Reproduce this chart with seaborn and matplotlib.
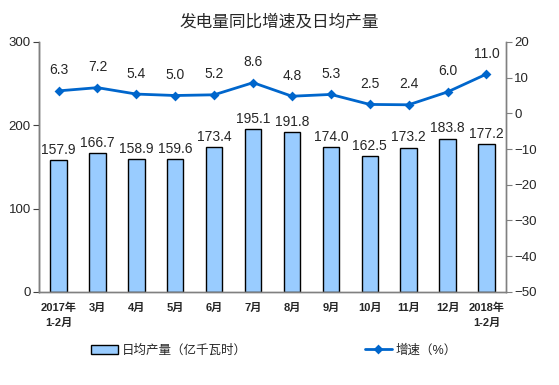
import pandas as pd
import matplotlib.pyplot as plt
import seaborn as sns

# Data
months = ['2017年\n1-2月', '3月', '4月', '5月', '6月', '7月', '8月', '9月',
          '10月', '11月', '12月', '2018年\n1-2月']
daily_output = [157.9, 166.7, 158.9, 159.6, 173.4, 195.1, 191.8, 174.0,
                162.5, 173.2, 183.8, 177.2]
growth = [6.3, 7.2, 5.4, 5.0, 5.2, 8.6, 4.8, 5.3, 2.5, 2.4, 6.0, 11.0]

df = pd.DataFrame({'month': months, 'output': daily_output, 'growth': growth})

sns.set_style('white')
plt.rcParams['font.family'] = ['Liberation Sans', 'Noto Sans CJK SC', 'DejaVu Sans']

fig = plt.figure(figsize=(5.59, 3.85), dpi=100)
ax = fig.add_axes([0.070, 0.242, 0.835, 0.649])
ax2 = ax.twinx()

# Bars: daily output
sns.barplot(data=df, x='month', y='output', ax=ax, color='#99CCFF',
            edgecolor='black', linewidth=1.0, width=0.42, saturation=1,
            label='日均产量（亿千瓦时）')
for i, v in enumerate(daily_output):
    ax.text(i, v + 4, f'{v:.1f}', ha='center', va='bottom', fontsize=10)

# Line: growth rate
sns.pointplot(data=df, x='month', y='growth', ax=ax2, color='#0066CC',
              markers='D', markersize=3.5, linewidth=2, label='增速（%）')
for i, v in enumerate(growth):
    ax2.text(i, v + 3.8, f'{v:.1f}', ha='center', va='bottom', fontsize=10)

ax.set_ylim(0, 300)
ax.set_yticks([0, 100, 200, 300])
ax2.set_ylim(-50, 20)
ax2.set_yticks(range(-50, 21, 10))
ax.set_xlim(-0.5, len(months) - 0.5)

ax.set_xlabel('')
ax.set_ylabel('')
ax2.set_xlabel('')
ax2.set_ylabel('')

# Spines and ticks
ax.spines['top'].set_visible(False)
ax2.spines['top'].set_visible(False)
for a in (ax, ax2):
    for sp in ['left', 'right', 'bottom']:
        a.spines[sp].set_color('#808080')
        a.spines[sp].set_linewidth(1.0)
ax.spines['left'].set_color('#404040')

ax.tick_params(axis='y', direction='out', length=4, color='#404040',
               labelsize=9.5, left=True, pad=2)
ax2.tick_params(axis='y', direction='out', length=4, color='#808080',
                labelsize=9.5, right=True, pad=2)
ax.set_xticks(range(len(months)))
ax.set_xticklabels(months, fontsize=8, fontweight='bold', linespacing=1.6)
ax.tick_params(axis='x', length=0, pad=8)
ax.set_xticks([i + 0.5 for i in range(len(months) - 1)], minor=True)
ax.tick_params(axis='x', which='minor', direction='in', length=4, color='#808080')
ax2.tick_params(axis='x', which='both', length=0)

if ax.legend_:
    ax.legend_.remove()
if ax2.legend_:
    ax2.legend_.remove()

h1, l1 = ax.get_legend_handles_labels()
h2, l2 = ax2.get_legend_handles_labels()
fig.legend(h1 + h2, l1 + l2, loc='center', bbox_to_anchor=(0.49, 0.09),
           ncol=2, frameon=False, fontsize=9, columnspacing=9.4,
           handlelength=2.2, handletextpad=0.3)

fig.suptitle('发电量同比增速及日均产量', x=0.5, y=0.965, fontsize=12)

plt.savefig('out.png', dpi=100)
plt.close()
